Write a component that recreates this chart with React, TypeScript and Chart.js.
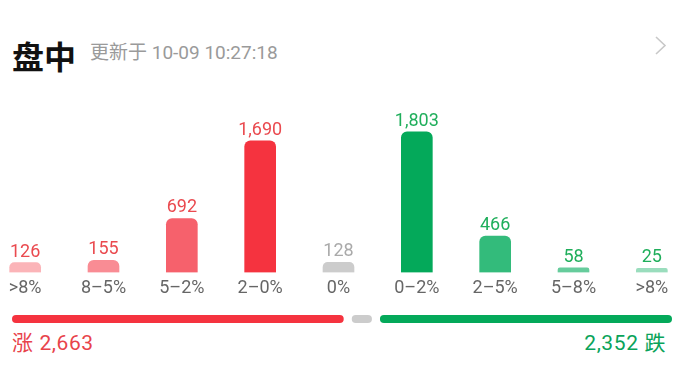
import React, { useEffect, useRef } from "react";
import { Chart, registerables } from "chart.js";

Chart.register(...registerables);

// ---- data ----
const categories = [">8%", "8–5%", "5–2%", "2–0%", "0%", "0–2%", "2–5%", "5–8%", ">8%"];
const values = [126, 155, 692, 1690, 128, 1803, 466, 58, 25];
const barColors = ["#fbb4b8", "#f98c94", "#f6616c", "#f5333f", "#cccccc", "#04a95a", "#33bb7b", "#66cc9c", "#9addbd"];
const labelColors = ["#ea4a4f", "#ea4a4f", "#ea4a4f", "#ea4a4f", "#aaaaaa", "#1fae5b", "#1fae5b", "#1fae5b", "#1fae5b"];
const upCount = 2663;
const flatCount = 128;
const downCount = 2352;
const updateTime = "10-09 10:27:18";

const RED = "#f5333f";
const GREEN = "#04a95a";
const GRAY = "#cccccc";

const valueLabelPlugin = {
  id: "valueLabels",
  afterDatasetsDraw(chart: any) {
    const meta = chart.getDatasetMeta(0);
    const ctx = chart.ctx;
    ctx.save();
    ctx.font = "18px Roboto";
    ctx.textAlign = "center";
    ctx.textBaseline = "alphabetic";
    meta.data.forEach((bar: any, i: number) => {
      ctx.fillStyle = labelColors[i];
      ctx.fillText(values[i].toLocaleString("en-US"), bar.x, bar.y - 6);
    });
    ctx.restore();
  },
};

export default function App() {
  const mainRef = useRef<HTMLCanvasElement | null>(null);
  const barRef = useRef<HTMLCanvasElement | null>(null);

  useEffect(() => {
    const main = new Chart(mainRef.current as HTMLCanvasElement, {
      type: "bar",
      data: {
        labels: categories,
        datasets: [
          {
            data: values,
            backgroundColor: barColors,
            borderRadius: 6,
            barThickness: 31,
            minBarLength: 4,
          },
        ],
      },
      options: {
        responsive: false,
        animation: false,
        devicePixelRatio: 1,
        layout: { padding: 0 },
        plugins: { legend: { display: false }, tooltip: { enabled: false } },
        scales: {
          x: {
            offset: true,
            grid: { display: false, drawTicks: false },
            border: { display: false },
            ticks: {
              color: "#666666",
              font: { family: "Roboto", size: 18 },
              padding: 5,
              autoSkip: false,
              maxRotation: 0,
            },
          },
          y: { display: false, min: 0, max: 2200 },
        },
      },
      plugins: [valueLabelPlugin],
    });

    const flatShown = Math.max(flatCount, (upCount + flatCount + downCount) * 0.043);
    const common = {
      borderSkipped: false,
      borderRadius: { topLeft: 4, topRight: 4, bottomLeft: 4, bottomRight: 4 },
      barThickness: 16,
      inflateAmount: -4,
      borderWidth: 0,
    };
    const bar = new Chart(barRef.current as HTMLCanvasElement, {
      type: "bar",
      data: {
        labels: [""],
        datasets: [
          { ...common, data: [upCount], backgroundColor: RED },
          { ...common, data: [flatShown], backgroundColor: GRAY },
          { ...common, data: [downCount], backgroundColor: GREEN },
        ] as any,
      },
      options: {
        indexAxis: "y",
        responsive: false,
        animation: false,
        devicePixelRatio: 1,
        layout: { padding: { left: 8, right: 3, top: 0, bottom: 0 } },
        plugins: { legend: { display: false }, tooltip: { enabled: false } },
        scales: {
          x: { stacked: true, display: false, min: 0, max: upCount + flatShown + downCount },
          y: { stacked: true, display: false },
        },
      },
    });

    return () => {
      main.destroy();
      bar.destroy();
    };
  }, []);

  const sans = "Roboto, 'Noto Sans CJK SC', sans-serif";

  return (
    <div
      style={{
        position: "absolute",
        left: 0,
        top: 0,
        width: 679,
        height: 381,
        overflow: "hidden",
        background: "#ffffff",
        fontFamily: sans,
      }}
    >
      <div
        style={{
          position: "absolute",
          left: 12,
          top: 39,
          fontSize: 32,
          lineHeight: "32px",
          fontWeight: 700,
          color: "#111111",
          fontFamily: "'Noto Sans CJK SC', sans-serif",
          whiteSpace: "nowrap",
        }}
      >
        盘中
      </div>
      <div
        style={{
          position: "absolute",
          left: 90,
          top: 43,
          fontSize: 19,
          lineHeight: "19px",
          color: "#9a9a9a",
          whiteSpace: "nowrap",
        }}
      >
        更新于 {updateTime}
      </div>
      <svg
        style={{ position: "absolute", left: 650, top: 32, width: 20, height: 26 }}
        viewBox="0 0 20 26"
      >
        <polyline points="6,5 15,13.5 6,22" fill="none" stroke="#c8c8c8" strokeWidth="1.6" />
      </svg>

      <canvas
        ref={mainRef}
        width={705}
        height={203}
        style={{ position: "absolute", left: -14, top: 101, width: 705, height: 203 }}
      />
      <canvas
        ref={barRef}
        width={679}
        height={18}
        style={{ position: "absolute", left: 0, top: 310, width: 679, height: 18 }}
      />

      <div
        style={{
          position: "absolute",
          left: 12,
          top: 333,
          fontSize: 21,
          lineHeight: "21px",
          letterSpacing: "0.6px",
          color: "#e8434b",
          whiteSpace: "nowrap",
        }}
      >
        涨 {upCount.toLocaleString("en-US")}
      </div>
      <div
        style={{
          position: "absolute",
          right: 13,
          top: 333,
          fontSize: 21,
          lineHeight: "21px",
          letterSpacing: "0.6px",
          color: "#0aa35a",
          whiteSpace: "nowrap",
        }}
      >
        {downCount.toLocaleString("en-US")} 跌
      </div>
    </div>
  );
}
